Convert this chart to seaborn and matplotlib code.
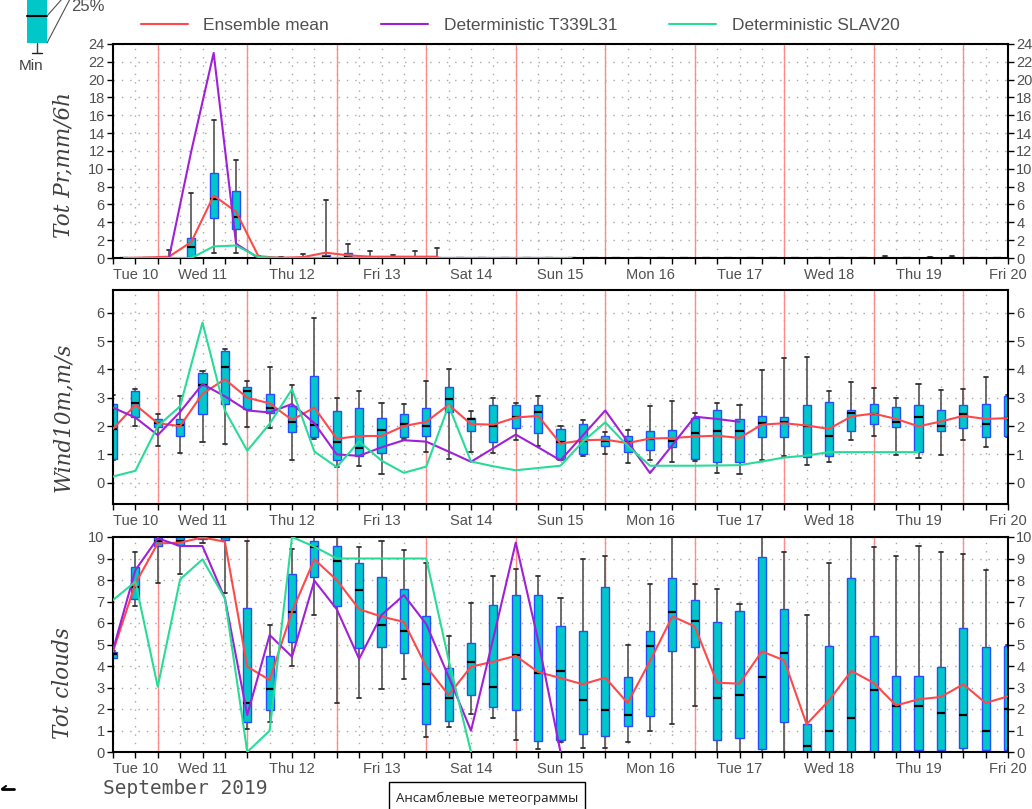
import numpy as np
import pandas as pd
import matplotlib
matplotlib.use("Agg")
import matplotlib.pyplot as plt
from matplotlib.lines import Line2D
from matplotlib.patches import Rectangle
import seaborn as sns

# ---------------- data ----------------
# 6-hourly steps from Tue 10 Sep 2019 00Z to Fri 20 00Z
steps = list(range(41))
day_labels = ["Tue 10", "Wed 11", "Thu 12", "Fri 13", "Sat 14", "Sun 15",
              "Mon 16", "Tue 17", "Wed 18", "Thu 19", "Fri 20"]
series_names = ["Ensemble mean", "Deterministic T339L31", "Deterministic SLAV20"]

# precipitation (6h accumulations, plotted at interval mid-points)
pr_steps = [i + 0.5 for i in range(40)]
pr_min = [0, 0, 0, 0, 0.6, 0.6, 0, 0, 0, 0, 0, 0, 0, 0, 0] + [0] * 25
pr_q1  = [0, 0, 0, 0, 4.45, 3.25, 0, 0, 0, 0, 0, 0, 0, 0, 0] + [0] * 25
pr_med = [0, 0, 0, 1.2, 6.6, 4.6, 0, 0, 0, 0.1, 0.2, 0, 0, 0, 0] + [0] * 25
pr_q3  = [0, 0, 0, 2.2, 9.5, 7.5, 0.1, 0, 0.1, 0.3, 0.6, 0.05, 0.15, 0, 0] + [0] * 25
pr_max = ([0, 0, 0.9, 7.25, 15.5, 11.0, 0.25, 0.15, 0.4, 6.5, 1.6, 0.8, 0.3, 0.75, 1.1]
          + [0] * 19 + [0.2, 0, 0.15, 0.25, 0, 0])
pr_mean = ([0, 0.05, 0.15, 1.8, 7.0, 5.2, 0.2, 0.02, 0.1, 0.6, 0.3, 0.15, 0.15, 0.15, 0.15]
           + [np.nan] * 25)
pr_t339 = [0, 0, 0, 12.0, 23.0, 1.6] + [0] * 14 + [np.nan] * 20
pr_slav = [0, 0, 0, 0, 1.3, 1.4, 0.1] + [0] * 14 + [np.nan] * 19

# 10 m wind speed
wd_min = [0.8, 2.0, 1.28, 1.05, 1.42, 1.35, 1.98, 1.93, 0.8, 1.55, 0.55, 0.58, 0.32, 1.55,
          1.1, 0.84, 1.08, 1.05, 1.52, 1.3, 0.8, 0.95, 1.02, 0.69, 0.81, 0.73, 0.75, 0.36,
          0.31, 0.79, 0.96, 0.61, 0.72, 1.52, 1.66, 0.99, 0.89, 0.99, 1.52, 1.25, 1.6]
wd_q1 = [0.85, 2.31, 1.96, 1.66, 2.44, 2.78, 2.61, 2.45, 1.78, 1.6, 0.8, 0.95, 1.05, 1.6,
         1.66, 2.48, 1.82, 1.42, 1.93, 1.75, 0.84, 1.01, 1.31, 1.07, 1.16, 1.26, 0.84, 0.74,
         0.72, 1.61, 1.61, 0.91, 0.96, 1.81, 2.07, 1.96, 1.1, 1.81, 1.93, 1.61, 1.66]
wd_med = [1.9, 2.81, 2.1, 2.02, 3.45, 4.1, 3.25, 2.65, 2.15, 2.05, 1.45, 1.22, 1.85, 2.08,
          2.01, 2.95, 2.25, 2.01, 2.32, 2.5, 1.45, 1.46, 1.46, 1.45, 1.55, 1.46, 1.75, 1.81,
          1.81, 2.1, 2.15, 2.01, 1.66, 2.46, 2.44, 2.14, 2.32, 2.01, 2.42, 2.07, 2.3]
wd_q3 = [2.78, 3.22, 2.25, 2.25, 3.87, 4.65, 3.39, 3.12, 2.72, 3.77, 2.52, 2.65, 2.3, 2.43,
         2.64, 3.38, 2.27, 2.73, 2.73, 2.75, 1.9, 2.06, 1.66, 1.66, 1.84, 1.87, 2.29, 2.55,
         2.26, 2.34, 2.33, 2.75, 2.85, 2.55, 2.79, 2.66, 2.73, 2.58, 2.73, 2.79, 3.05]
wd_max = [3.1, 3.32, 2.43, 3.05, 3.95, 4.72, 3.58, 4.1, 3.45, 5.8, 3.0, 3.22, 2.8, 2.77,
          3.6, 4.0, 2.54, 2.99, 2.8, 3.07, 1.99, 2.22, 1.78, 1.85, 2.72, 2.88, 2.46, 2.81,
          2.75, 3.96, 4.4, 4.43, 3.22, 3.54, 3.36, 2.99, 3.47, 3.28, 3.31, 3.72, 3.1]
wd_mean = [1.9, 2.75, 2.1, 2.0, 3.14, 3.65, 3.0, 2.8, 2.22, 2.65, 1.55, 1.65, 1.65, 2.0,
           2.15, 2.75, 2.07, 2.05, 2.3, 2.36, 1.38, 1.5, 1.52, 1.4, 1.56, 1.58, 1.63, 1.66,
           1.58, 2.05, 2.1, 2.02, 1.9, 2.34, 2.44, 2.25, 1.99, 2.16, 2.36, 2.25, 2.28]
wd_t339 = [2.65, 2.3, 1.68, 2.5, 3.48, 3.05, 2.55, 2.48, 2.78, 2.1, 1.0, 0.95, 1.25, 1.5,
           1.45, 1.1, 0.74, 1.22, 1.7, 1.25, 0.79, 1.67, 2.55, 1.45, 0.34, 1.33, 2.33, 2.25,
           2.15] + [np.nan] * 12
wd_slav = [0.22, 0.42, 2.0, 2.7, 5.65, 2.55, 1.13, 2.08, 3.3, 1.1, 0.55, 1.46, 0.78, 0.35,
           0.57, 2.72, 0.75, 0.58, 0.44, 0.52, 0.6, 1.45, 2.13, 1.3, 0.6, 0.6, 0.6, 0.61,
           0.62, 0.75, 0.89, 0.96, 1.08, 1.08, 1.08, 1.08, 1.08] + [np.nan] * 4

# total cloud cover
cl_min = [4.35, 6.79, 7.88, 8.3, 9.7, 7.38, 1.05, 1.41, 4.0, 6.37, 2.29, 2.5, 2.91, 3.4,
          0.71, 1.18, 1.75, 1.57, 0.57, 0.16, 0.45, 0.19, 0.19, 0.47, 0.98, 1.29, 2.12,
          0, 0, 0, 0, 0, 0, 0, 0, 0, 0, 0, 0, 0, 0]
cl_q1 = [4.39, 7.12, 9.58, 9.63, 9.9, 9.85, 1.4, 1.95, 5.13, 8.16, 6.79, 4.85, 4.87, 4.59,
         1.3, 1.43, 2.65, 2.11, 1.94, 0.51, 0.54, 0.85, 0.73, 1.19, 1.66, 4.7, 4.88, 0.54,
         0.67, 0.16, 1.4, 0, 0, 0, 0, 0, 0.11, 0.11, 0.17, 0.11, 0.11]
cl_med = [4.54, 7.69, 9.8, 9.8, 10, 10, 2.3, 2.91, 6.53, 9.55, 8.9, 7.53, 5.91, 5.63,
          3.15, 2.53, 4.2, 3.04, 4.5, 3.67, 3.77, 2.4, 1.94, 1.71, 4.91, 6.51, 6.09, 2.51,
          2.64, 3.49, 4.6, 0.28, 0.98, 1.58, 2.9, 2.12, 2.12, 1.81, 1.71, 0.98, 2.0]
cl_q3 = [4.67, 8.59, 9.98, 10, 10, 10, 6.68, 4.48, 8.28, 9.83, 9.6, 8.81, 8.16, 7.6,
         6.34, 3.89, 5.09, 6.84, 7.29, 7.29, 5.84, 5.63, 7.67, 3.49, 5.63, 8.09, 7.05, 6.05,
         6.56, 9.07, 6.67, 1.32, 4.91, 8.11, 5.38, 3.52, 3.52, 3.95, 5.78, 4.88, 4.91]
cl_max = [4.7, 9.3, 10, 10, 10, 10, 9.83, 5.9, 9.43, 10, 10, 9.52, 9.83, 9.4,
          8.78, 5.4, 6.91, 8.19, 8.53, 8.17, 7.18, 8.99, 9.1, 4.96, 7.83, 10, 7.83, 7.6,
          6.9, 10, 9.3, 6.36, 8.79, 10, 9.53, 9.1, 9.57, 9.29, 9.22, 8.48, 5.0]
cl_mean = [4.67, 7.84, 9.7, 9.74, 9.98, 9.78, 3.97, 3.35, 6.53, 8.96, 8.0, 6.64, 6.3, 6.05,
           3.97, 2.65, 3.97, 4.2, 4.47, 3.72, 3.44, 3.15, 3.46, 2.28, 4.23, 6.31, 5.84, 3.22,
           3.18, 4.68, 4.26, 1.29, 2.4, 3.77, 3.21, 2.17, 2.45, 2.56, 3.15, 2.28, 2.59]
cl_t339 = [4.74, 8.46, 9.94, 9.58, 9.58, 7.15, 1.72, 5.44, 4.43, 7.97, 6.64, 4.33, 6.37,
           7.3, 5.95, 3.5, 0.99, 5.3, 9.74, 5.2, 0.0] + [np.nan] * 20
cl_slav = [7.07, 7.92, 3.04, 8.03, 8.96, 7.15, 0.0, 0.99, 10, 9.55, 9.0, 9.0, 9.0, 9.0,
           9.0, 4.28, 0.0] + [np.nan] * 24

# ---------------- style ----------------
sns.set_style("white")
plt.rcParams["font.family"] = ["Liberation Sans", "DejaVu Sans"]

C_MEAN = "#ff4848"
C_T339 = "#a020d8"
C_SLAV = "#28dc98"
C_BOX = "#00c8c8"
C_EDGE = "#2a4cff"
C_TXT = "#505050"


def box_frame(t, mn, q1, md, q3, mx):
    rows = []
    for ti, a, b, c, d, e in zip(t, mn, q1, md, q3, mx):
        for v in (a, b, c, d, e):
            rows.append((ti, v))
    return pd.DataFrame(rows, columns=["t", "v"])


fig = plt.figure(figsize=(10.32, 8.09), dpi=100)
W, H = 1032.0, 809.0


def add_ax(top, bottom):
    return fig.add_axes([113 / W, 1 - bottom / H, (1008 - 113) / W, (bottom - top) / H])


ax1 = add_ax(44, 258)
ax2 = add_ax(290, 504)
ax3 = add_ax(537, 752)

panels = [
    (ax1, box_frame(pr_steps, pr_min, pr_q1, pr_med, pr_q3, pr_max),
     pr_steps, [pr_mean, pr_t339, pr_slav], (0, 24), list(range(0, 25, 2))),
    (ax2, box_frame(steps, wd_min, wd_q1, wd_med, wd_q3, wd_max),
     steps, [wd_mean, wd_t339, wd_slav], (-0.75, 6.8), list(range(0, 7))),
    (ax3, box_frame(steps, cl_min, cl_q1, cl_med, cl_q3, cl_max),
     steps, [cl_mean, cl_t339, cl_slav], (0, 10), list(range(0, 11))),
]

for ax, bdf, lt, lines, ylim, yticks in panels:
    ax.set_axisbelow(True)
    for t12 in range(2, 41, 4):
        ax.axvline(t12, color="#ff8a8a", lw=1.0, zorder=0.6)
    sns.boxplot(data=bdf, x="t", y="v", native_scale=True, width=0.36,
                whis=(0, 100), color=C_BOX, saturation=1, linecolor=C_EDGE,
                linewidth=1.0, fliersize=0, ax=ax,
                boxprops=dict(facecolor=C_BOX, edgecolor=C_EDGE, linewidth=1.0, zorder=2),
                medianprops=dict(color="black", linewidth=1.6, zorder=2.2),
                whiskerprops=dict(color="#606060", linewidth=1.3, zorder=1.9),
                capprops=dict(color="#303030", linewidth=1.3, zorder=1.9))
    for vals, col in zip(lines, [C_MEAN, C_T339, C_SLAV]):
        sns.lineplot(x=lt, y=vals, color=col, lw=1.5, ax=ax, zorder=3, sort=False)
    ax.set_xlim(0, 40)
    ax.set_ylim(*ylim)
    ax.set_yticks(yticks)
    ax.set_yticklabels([str(v) for v in yticks])
    ax.set_xticks(steps)
    labs = [day_labels[i // 4] if i % 4 == 0 else "" for i in steps]
    ax.set_xticklabels(labs)
    ax.set_xlabel("")
    ax.set_ylabel("")
    ax.grid(True, color="#a8a8a8", linestyle=(0, (1, 5)), linewidth=1.0)
    ax.tick_params(axis="both", direction="out", length=4, width=1, color="black",
                   labelcolor=C_TXT, labelsize=10.5, left=True, right=True,
                   labelleft=True, labelright=True, bottom=True, pad=2)
    ax.tick_params(axis="x", labelsize=10.5, pad=3)
    ax.get_xticklabels()[0].set_horizontalalignment("left")
    for sp in ax.spines.values():
        sp.set_color("black")
        sp.set_linewidth(1.5)

# y axis titles
ylab_kw = dict(rotation=90, ha="center", va="center", family="DejaVu Serif",
               style="italic", fontsize=15.5, color="#404040")
fig.text(63 / W, 1 - 165 / H, "Tot Pr,mm/6h", **ylab_kw)
fig.text(63 / W, 1 - 417 / H, "Wind10m,m/s", **ylab_kw)
fig.text(63 / W, 1 - 683 / H, "Tot clouds", **ylab_kw)

# legend
handles = [Line2D([], [], color=c, lw=1.5) for c in (C_MEAN, C_T339, C_SLAV)]
fig.legend(handles, series_names, loc="center", ncol=3, frameon=False,
           bbox_to_anchor=(520 / W, 1 - 25 / H), fontsize=12.5, labelcolor=C_TXT,
           handlelength=2.7, handletextpad=0.9, columnspacing=3.0)

# decorations drawn in pixel coordinates
ov = fig.add_axes([0, 0, 1, 1], facecolor="none")
ov.set_xlim(0, W)
ov.set_ylim(H, 0)
ov.axis("off")
ov.add_patch(Rectangle((27, -3), 20, 46, facecolor=C_BOX, edgecolor="none"))
ov.plot([27, 47], [16, 16], color="black", lw=1.5)
ov.plot([37, 37], [43, 53], color="#404040", lw=1)
ov.plot([32, 42], [53, 53], color="#202020", lw=1)
ov.plot([47, 62], [16, -1], color="#505050", lw=0.8)
ov.plot([47, 70], [43, -1], color="#505050", lw=0.8)
ov.text(71, 6, "25%", ha="left", va="center", fontsize=12, color=C_TXT)
ov.text(31, 66, "Min", ha="center", va="center", fontsize=11, color="#404040")
ov.text(103, 788, "September 2019", ha="left", va="center", fontsize=14,
        family="DejaVu Sans Mono", color=C_TXT)
ov.add_patch(Rectangle((389, 782), 196, 40, facecolor="white", edgecolor="black", lw=1))
ov.text(487, 798, "Ансамблевые метеограммы", ha="center", va="center",
        fontsize=9.5, family=["Open Sans", "DejaVu Sans"], color="#202020")
ov.plot([2, 14], [789, 789], color="black", lw=2)
ov.plot([2, 6], [789, 786], color="black", lw=1.5)

fig.savefig("out.png", dpi=100)
